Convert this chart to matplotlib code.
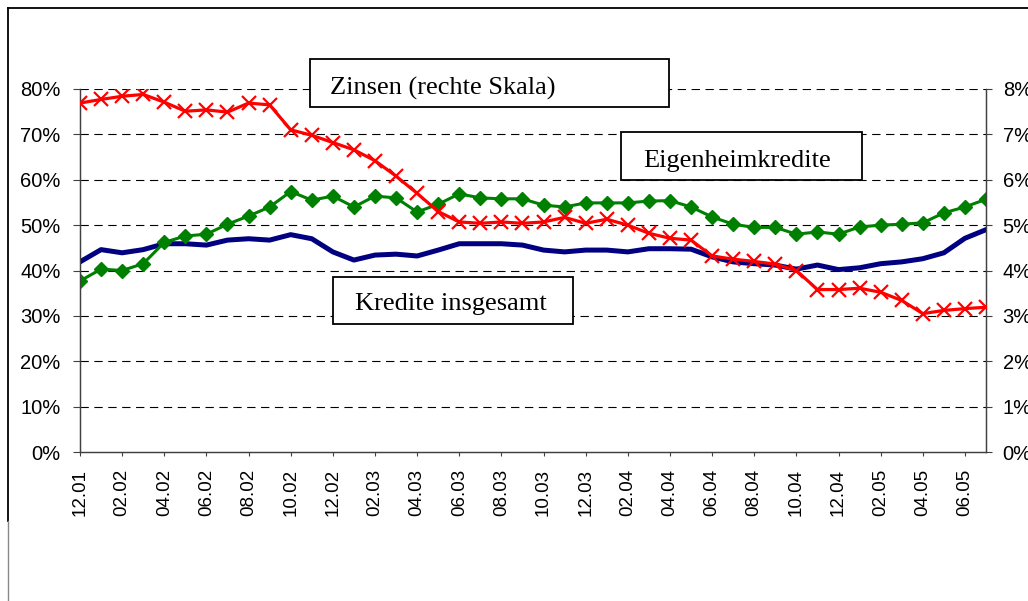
"""
plot.py
=======
Zinsen vs. Kreditentwicklung (Eigenheimkredite / Kredite insgesamt),
monthly 12.01 - 07.05, two y-axes (left: growth share, right: Zinsen).
"""

import matplotlib
matplotlib.use("Agg")

import matplotlib.pyplot as plt
from matplotlib.lines import Line2D
from matplotlib.patches import Rectangle
from matplotlib.ticker import FuncFormatter

# ───────────────────────── Data ────────────────────────────────────────────
# one value per month, 12.01 ... 07.05 (44 months)
kredite_insgesamt = [
    41.9, 44.6, 43.9, 44.6, 45.9, 45.9, 45.6, 46.7, 47.0, 46.7, 47.9, 47.0,
    44.1, 42.3, 43.4, 43.6, 43.2, 44.5, 45.9, 45.9, 45.9, 45.6, 44.5, 44.1,
    44.5, 44.5, 44.1, 44.8, 44.8, 44.7, 43.0, 41.9, 41.5, 41.2, 40.3, 41.2,
    40.2, 40.6, 41.5, 41.9, 42.6, 43.9, 47.1, 49.0,
]
eigenheimkredite = [
    37.7, 40.3, 40.0, 41.5, 46.2, 47.6, 48.0, 50.2, 52.0, 54.0, 57.4, 55.5,
    56.4, 54.0, 56.4, 56.0, 52.9, 54.6, 56.9, 56.0, 55.8, 55.8, 54.4, 54.0,
    54.9, 54.9, 54.9, 55.3, 55.4, 54.0, 51.8, 50.2, 49.5, 49.5, 48.0, 48.5,
    48.0, 49.6, 50.0, 50.2, 50.5, 52.7, 54.0, 55.7,
]
zinsen = [
    7.69, 7.77, 7.84, 7.88, 7.71, 7.51, 7.54, 7.49, 7.69, 7.65, 7.10, 6.98,
    6.82, 6.66, 6.42, 6.08, 5.70, 5.30, 5.07, 5.04, 5.07, 5.04, 5.07, 5.17,
    5.04, 5.13, 5.00, 4.82, 4.71, 4.67, 4.32, 4.25, 4.20, 4.14, 4.00, 3.58,
    3.58, 3.61, 3.52, 3.34, 3.05, 3.12, 3.16, 3.19,
]
# every second month is labelled
tick_labels = [
    "12.01", "02.02", "04.02", "06.02", "08.02", "10.02", "12.02",
    "02.03", "04.03", "06.03", "08.03", "10.03", "12.03",
    "02.04", "04.04", "06.04", "08.04", "10.04", "12.04",
    "02.05", "04.05", "06.05",
]

# ───────────────────────── Style ───────────────────────────────────────────
W, H = 1028, 601
BLUE = "#000080"
GREEN = "#008000"
RED = "#ff0000"
AXIS_GREY = "#404040"
SANS = "Liberation Sans"
SERIF = "Liberation Serif"

plt.rcParams["lines.scale_dashes"] = False


def fx(x):
    return x / W


def fy(y):
    return 1 - y / H


def label_box(fig, x0, y0, x1, y1, text, tx, ty):
    """White framed text box, pixel coords of the reference."""
    fig.add_artist(Rectangle(
        (fx(x0), fy(y1)), fx(x1) - fx(x0), fy(y0) - fy(y1),
        transform=fig.transFigure, facecolor="white",
        edgecolor="black", linewidth=1.3, zorder=5,
    ))
    fig.text(fx(tx), fy(ty), text, family=SERIF, fontsize=19,
             ha="left", va="baseline", zorder=6)


def build_figure():
    fig = plt.figure(figsize=(W / 100, H / 100), dpi=100)
    ax = fig.add_axes([fx(80), fy(452), fx(986) - fx(80), fy(89) - fy(452)])
    ax2 = ax.twinx()

    x = list(range(len(zinsen)))

    # left axis: credit series
    ax.plot(x, kredite_insgesamt, color=BLUE, lw=3.6,
            solid_joinstyle="round", zorder=3)
    ax.plot(x, eigenheimkredite, color=GREEN, lw=2.2, marker="D",
            markersize=7, zorder=4)
    # right axis: interest rate
    ax2.plot(x, zinsen, color=RED, lw=2.3, marker="x", markersize=10,
             markeredgewidth=1.6, zorder=5)

    ax.set_xlim(0, len(x) - 1)
    ax.set_ylim(0, 80)
    ax2.set_ylim(0, 8)
    ax.set_yticks(range(0, 81, 10))
    ax2.set_yticks(range(0, 9, 1))
    ax.yaxis.set_major_formatter(FuncFormatter(lambda v, _: f"{v:.0f}%"))
    ax2.yaxis.set_major_formatter(FuncFormatter(lambda v, _: f"{v:.0f}%"))

    ax.set_xticks(x[::2])
    ax.set_xticklabels(tick_labels, rotation=90, family=SANS, fontsize=13.5)

    for lab in ax.get_yticklabels() + ax2.get_yticklabels():
        lab.set_family(SANS)
        lab.set_fontsize(14.5)

    ax.tick_params(axis="x", length=3, width=0.8, color=AXIS_GREY, pad=9)
    ax.tick_params(axis="y", length=5, width=0.8, color=AXIS_GREY, pad=9)
    ax2.tick_params(axis="y", length=4, width=0.8, color=AXIS_GREY, pad=8)

    # dashed grid lines
    ax.set_axisbelow(True)
    for v in range(10, 81, 10):
        ax.axhline(v, color="black", lw=0.8, ls=(0, (6, 4)), zorder=1)

    for a in (ax, ax2):
        a.spines["top"].set_visible(False)
        for s in ("left", "right", "bottom"):
            a.spines[s].set_color(AXIS_GREY)
            a.spines[s].set_linewidth(0.9)

    # annotation boxes
    label_box(fig, 310, 59, 669, 107, "Zinsen (rechte Skala)", 330, 95)
    label_box(fig, 621, 132, 862, 180, "Eigenheimkredite", 643, 167)
    label_box(fig, 333, 277, 573, 324, "Kredite insgesamt", 355, 310)

    # outer frame of the embedded chart
    fig.add_artist(Line2D([fx(8), fx(W)], [fy(8), fy(8)],
                          transform=fig.transFigure, color="black", lw=1.3))
    fig.add_artist(Line2D([fx(8), fx(8)], [fy(8), fy(521)],
                          transform=fig.transFigure, color="black", lw=1.3))
    fig.add_artist(Line2D([fx(8), fx(8)], [fy(521), fy(H)],
                          transform=fig.transFigure, color="#888888", lw=1.0))
    return fig


def main():
    fig = build_figure()
    fig.savefig("out.png", dpi=100)
    plt.close(fig)


if __name__ == "__main__":
    main()
